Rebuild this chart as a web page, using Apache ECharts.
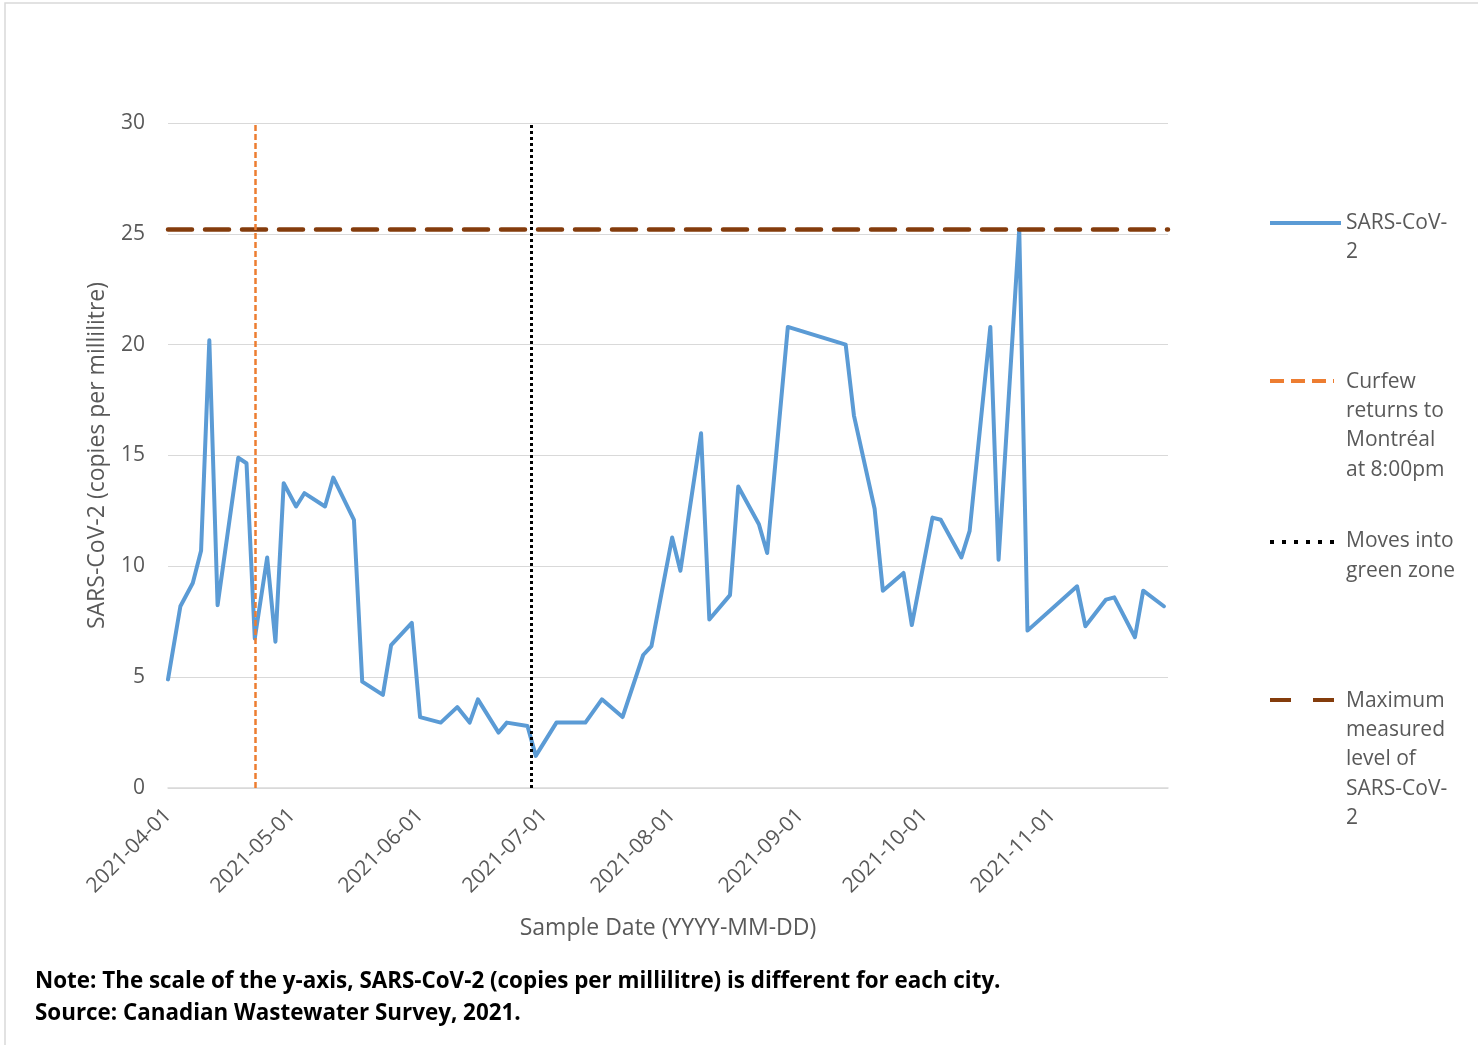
<!DOCTYPE html>
<html>
<head>
<meta charset="utf-8">
<script src="https://cdn.jsdelivr.net/npm/echarts@6/dist/echarts.min.js"></script>
<style>
html,body{margin:0;padding:0;background:#fff;}
#chart{width:1478px;height:1045px;}
</style>
</head>
<body>
<div id="chart"></div>
<script>
// ---- data ----
var sampleDates = [
  '2021-04-01','2021-04-04','2021-04-07','2021-04-09','2021-04-11','2021-04-13','2021-04-18','2021-04-20','2021-04-22','2021-04-25','2021-04-27','2021-04-29',
  '2021-05-02','2021-05-04','2021-05-09','2021-05-11','2021-05-16','2021-05-18','2021-05-23','2021-05-25','2021-05-30',
  '2021-06-01','2021-06-06','2021-06-10','2021-06-13','2021-06-15','2021-06-20','2021-06-22','2021-06-27','2021-06-29',
  '2021-07-04','2021-07-11','2021-07-15','2021-07-20','2021-07-25','2021-07-27',
  '2021-08-01','2021-08-03','2021-08-08','2021-08-10','2021-08-15','2021-08-17','2021-08-22','2021-08-24','2021-08-29',
  '2021-09-12','2021-09-14','2021-09-19','2021-09-21','2021-09-26','2021-09-28',
  '2021-10-03','2021-10-05','2021-10-10','2021-10-12','2021-10-17','2021-10-19','2021-10-24','2021-10-26',
  '2021-11-07','2021-11-09','2021-11-14','2021-11-16','2021-11-21','2021-11-23','2021-11-28'
];
var sarsValues = [
  4.9, 8.2, 9.25, 10.7, 20.2, 8.25, 14.9, 14.65, 6.75, 10.4, 6.6, 13.75,
  12.7, 13.3, 12.7, 14.0, 12.1, 4.8, 4.2, 6.45, 7.45,
  3.2, 2.95, 3.65, 2.95, 4.0, 2.5, 2.95, 2.8, 1.45,
  2.95, 2.95, 4.0, 3.2, 6.0, 6.4,
  11.3, 9.8, 16.0, 7.6, 8.7, 13.6, 11.9, 10.6, 20.8,
  20.0, 16.8, 12.6, 8.9, 9.7, 7.35,
  12.2, 12.1, 10.4, 11.6, 20.8, 10.3, 25.2, 7.1,
  9.1, 7.3, 8.5, 8.6, 6.8, 8.9, 8.2
];
var tickDates = ['2021-04-01','2021-05-01','2021-06-01','2021-07-01','2021-08-01','2021-09-01','2021-10-01','2021-11-01'];
var axisStart = '2021-04-01';
var axisEnd = '2021-11-29';
var curfewDate = '2021-04-22';
var greenZoneDate = '2021-06-28';
var maxLevel = 25.2;
var seriesName = 'SARS-CoV-2';
var curfewName = 'Curfew\nreturns to\nMontréal\nat 8:00pm';
var greenName = 'Moves into\ngreen zone';
var maxName = 'Maximum\nmeasured\nlevel of\nSARS-CoV-\n2';
var yTitle = 'SARS-CoV-2 (copies per millilitre)';
var xTitle = 'Sample Date (YYYY-MM-DD)';
var noteLine = 'Note: The scale of the y-axis, SARS-CoV-2 (copies per millilitre) is different for each city.';
var sourceLine = 'Source: Canadian Wastewater Survey, 2021.';

// ---- chart ----
function ts(s){ return Date.UTC(+s.slice(0,4), +s.slice(5,7) - 1, +s.slice(8,10)); }
function fmt(v){
  var d = new Date(v);
  var m = d.getUTCMonth() + 1, day = d.getUTCDate();
  return d.getUTCFullYear() + '-' + (m < 10 ? '0' : '') + m + '-' + (day < 10 ? '0' : '') + day;
}
var lineData = sampleDates.map(function(d, i){ return [ts(d), sarsValues[i]]; });
var tickValues = tickDates.map(ts);
var FONT = '"Open Sans", sans-serif';
var GRAY = '#595959';

var chart = echarts.init(document.getElementById('chart'), null, {renderer: 'canvas'});
var option = {
  animation: false,
  backgroundColor: '#ffffff',
  grid: {left: 168, right: 310, top: 123, bottom: 257, containLabel: false},
  xAxis: {
    type: 'value',
    min: ts(axisStart),
    max: ts(axisEnd),
    name: xTitle,
    nameLocation: 'middle',
    nameGap: 129,
    nameTextStyle: {color: GRAY, fontSize: 23, fontFamily: FONT},
    axisLine: {show: true, lineStyle: {color: '#D9D9D9', width: 1.5}},
    axisTick: {show: false},
    splitLine: {show: false},
    axisLabel: {
      customValues: tickValues,
      rotate: 45,
      margin: 24,
      color: GRAY,
      fontSize: 21,
      fontFamily: FONT,
      formatter: function(v){ return fmt(v); }
    }
  },
  yAxis: {
    type: 'value',
    min: 0,
    max: 30,
    interval: 5,
    name: yTitle,
    nameLocation: 'middle',
    nameGap: 59,
    nameTextStyle: {color: GRAY, fontSize: 23, fontFamily: FONT},
    axisLine: {show: false},
    axisTick: {show: false},
    axisLabel: {color: GRAY, fontSize: 21, fontFamily: FONT, margin: 23},
    splitLine: {show: true, lineStyle: {color: '#D9D9D9', width: 1.2}}
  },
  series: [{
    name: seriesName,
    type: 'line',
    data: lineData,
    showSymbol: false,
    symbol: 'none',
    lineStyle: {color: '#5B9BD5', width: 4, join: 'round', cap: 'round'},
    z: 3,
    markLine: {
      silent: true,
      symbol: ['none', 'none'],
      label: {show: false},
      data: [
        {name: maxName, yAxis: maxLevel, lineStyle: {color: '#843C0C', width: 4.5, type: [24, 13], cap: 'round'}},
        {name: curfewName, xAxis: ts(curfewDate), lineStyle: {color: '#ED7D31', width: 2.5, type: [6, 3]}},
        {name: greenName, xAxis: ts(greenZoneDate), lineStyle: {color: '#000000', width: 3, type: [3, 3]}}
      ]
    }
  }],
  graphic: [
    {type: 'rect', silent: true, shape: {x: 5, y: 3, width: 1600, height: 1200}, style: {fill: 'none', stroke: '#D9D9D9', lineWidth: 1.5}},
    // legend
    {type: 'line', shape: {x1: 1270, y1: 223, x2: 1341, y2: 223}, style: {stroke: '#5B9BD5', lineWidth: 4}},
    {type: 'text', style: {x: 1346, y: 209, verticalAlign: 'top', text: 'SARS-CoV-\n2', fill: GRAY, fontSize: 21, fontFamily: FONT, lineHeight: 29}},
    {type: 'line', shape: {x1: 1270, y1: 381, x2: 1334, y2: 381}, style: {stroke: '#ED7D31', lineWidth: 4, lineDash: [14, 7]}},
    {type: 'text', style: {x: 1346, y: 367, verticalAlign: 'top', text: curfewName, fill: GRAY, fontSize: 21, fontFamily: FONT, lineHeight: 29.3}},
    {type: 'line', shape: {x1: 1270, y1: 542, x2: 1336, y2: 542}, style: {stroke: '#000000', lineWidth: 4, lineDash: [4, 8]}},
    {type: 'text', style: {x: 1346, y: 526, verticalAlign: 'top', text: greenName, fill: GRAY, fontSize: 21, fontFamily: FONT, lineHeight: 30}},
    {type: 'line', shape: {x1: 1270, y1: 700, x2: 1334, y2: 700}, style: {stroke: '#843C0C', lineWidth: 4, lineDash: [21, 22]}},
    {type: 'text', style: {x: 1346, y: 686, verticalAlign: 'top', text: maxName, fill: GRAY, fontSize: 21, fontFamily: FONT, lineHeight: 29.3}},
    // notes
    {type: 'text', style: {x: 35, y: 982, verticalAlign: 'middle', text: noteLine, fill: '#000000', fontSize: 22.4, fontWeight: 'bold', fontFamily: FONT}},
    {type: 'text', style: {x: 35, y: 1014, verticalAlign: 'middle', text: sourceLine, fill: '#000000', fontSize: 22.4, fontWeight: 'bold', fontFamily: FONT}}
  ]
};
chart.setOption(option);
</script>
</body>
</html>
